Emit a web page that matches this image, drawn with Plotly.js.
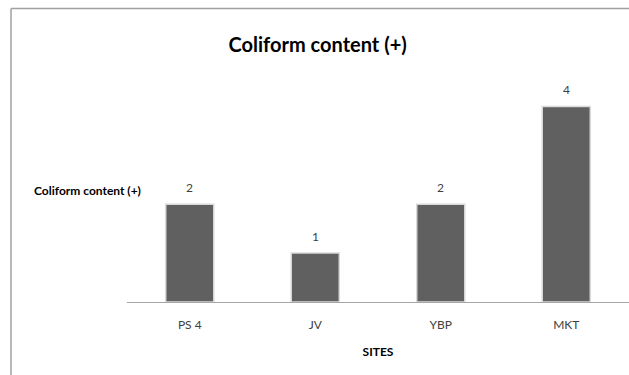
<!DOCTYPE html>
<html>
<head>
<meta charset="utf-8">
<script src="https://cdn.plot.ly/plotly-3.0.1.min.js"></script>
<style>html,body{margin:0;padding:0;background:#fff;}#chart{width:629px;height:375px;}</style>
</head>
<body>
<div id="chart"></div>
<script>
const sites = ["PS 4", "JV", "YBP", "MKT"];
const coliform = [2, 1, 2, 4];
const chartTitle = "Coliform content (+)";
const yLabel = "Coliform content (+)";
const xLabel = "SITES";

const FONT = "Lato, 'Open Sans', sans-serif";

const trace = {
  type: "bar",
  x: sites,
  y: coliform,
  marker: {color: "#606060", line: {color: "#d9d9d9", width: 1.5}},
  hoverinfo: "x+y",
  showlegend: false
};

const valueLabels = sites.map((s, i) => ({
  x: s, y: coliform[i], xref: "x", yref: "y",
  text: String(coliform[i]), showarrow: false,
  yshift: 17, font: {family: FONT, size: 12, color: "#404040"}
}));

const frameLeft = (11 - 127) / 502;
const frameTop = (302 - 8.5) / 220;

const layout = {
  width: 629, height: 375,
  margin: {l: 127, r: 0, t: 82, b: 73},
  paper_bgcolor: "#ffffff", plot_bgcolor: "#ffffff",
  bargap: 0.617,
  title: {text: chartTitle, x: 0.505, xanchor: "center", y: 0.88, yanchor: "middle",
          font: {family: FONT, size: 20, color: "#000000", weight: "bold"}},
  xaxis: {
    type: "category", range: [-0.5, 3.5],
    showline: true, linecolor: "#a6a6a6", linewidth: 1,
    ticks: "", showgrid: false, zeroline: false,
    ticklabelstandoff: 12,
    tickfont: {family: FONT, size: 12, color: "#404040"},
    title: {text: xLabel, standoff: 16, font: {family: FONT, size: 12, color: "#000000", weight: "bold"}},
    automargin: false, fixedrange: true
  },
  yaxis: {
    range: [0, 4.5], showline: false, showgrid: false, zeroline: false,
    showticklabels: false, ticks: "", automargin: false, fixedrange: true
  },
  annotations: valueLabels.concat([{
    text: yLabel, xref: "paper", yref: "paper",
    x: (87 - 127) / 502, y: (302 - 190) / 220, xanchor: "center", yanchor: "middle",
    showarrow: false, font: {family: FONT, size: 12, color: "#000000", weight: "bold"}
  }]),
  shapes: [
    {type: "line", xref: "paper", yref: "paper", x0: frameLeft, x1: 1.0, y0: frameTop, y1: frameTop,
     line: {color: "#a0a0a0", width: 1.5}, layer: "below"},
    {type: "line", xref: "paper", yref: "paper", x0: frameLeft, x1: frameLeft, y0: frameTop, y1: -0.4,
     line: {color: "#a0a0a0", width: 1.5}, layer: "below"}
  ]
};

Plotly.newPlot("chart", [trace], layout, {displayModeBar: false, staticPlot: true});
</script>
</body>
</html>
